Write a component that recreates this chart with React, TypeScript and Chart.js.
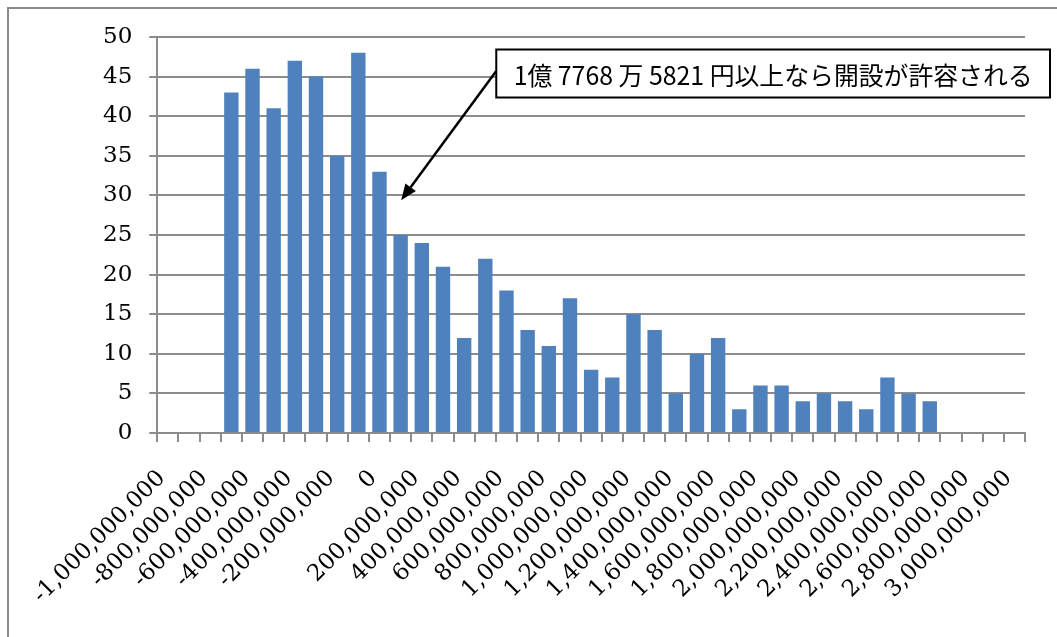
import React, { useEffect, useRef } from "react";
import { Chart, registerables } from "chart.js";

Chart.register(...registerables);

// Histogram bins (lower bound of each 100,000,000 yen bin)
const binStarts: number[] = [
  -1000000000, -900000000, -800000000, -700000000, -600000000,
  -500000000, -400000000, -300000000, -200000000, -100000000,
  0, 100000000, 200000000, 300000000, 400000000,
  500000000, 600000000, 700000000, 800000000, 900000000,
  1000000000, 1100000000, 1200000000, 1300000000, 1400000000,
  1500000000, 1600000000, 1700000000, 1800000000, 1900000000,
  2000000000, 2100000000, 2200000000, 2300000000, 2400000000,
  2500000000, 2600000000, 2700000000, 2800000000, 2900000000,
  3000000000,
];

// Frequency in each bin
const counts: (number | null)[] = [
  null, null, null, 43, 46,
  41, 47, 45, 35, 48,
  33, 25, 24, 21, 12,
  22, 18, 13, 11, 17,
  8, 7, 15, 13, 5,
  10, 12, 3, 6, 6,
  4, 5, 4, 3, 7,
  5, 4, null, null, null,
  null,
];

// Value axis
const yMin = 0;
const yMax = 50;
const yStep = 5;

// Only every second bin gets a printed label
const labelEvery = 2;

// Break-even amount and the note pointing to its bin
const thresholdYen = 177685821;
const arrowLevel = 29.4;
const noteText = "1億 7768 万 5821 円以上なら開設が許容される";

const BAR = "#4F81BD";
const GRID = "#8c8c8c";
const SERIF = "'DejaVu Serif', 'Liberation Serif', serif";
const TICK_SIZE = 23;

const formatYen = (v: number): string =>
  (v < 0 ? "-" : "") + String(Math.abs(v)).replace(/\B(?=(\d{3})+(?!\d))/g, ",");

const framePlugin = {
  id: "chartFrame",
  beforeDraw(chart: any) {
    const { ctx, width, height } = chart;
    ctx.save();
    ctx.fillStyle = "#ffffff";
    ctx.fillRect(0, 0, width, height);
    ctx.fillStyle = "#8a8a8a";
    ctx.fillRect(7, 7, 2, height - 7);
    ctx.fillRect(7, 7, width - 7, 2);
    ctx.restore();
  },
};

const notePlugin = {
  id: "thresholdNote",
  afterDraw(chart: any) {
    const { ctx, chartArea } = chart;
    const xs = chart.scales.x;
    const ys = chart.scales.y;

    let binIndex = 0;
    for (let i = 0; i < binStarts.length; i++) {
      if (binStarts[i] <= thresholdYen) binIndex = i;
    }
    const tipX = xs.getPixelForValue(binIndex) + 0.5;
    const tipY = ys.getPixelForValue(arrowLevel);

    const boxL = chartArea.left + 339;
    const boxT = chartArea.top + 12.5;
    const boxR = chartArea.right + 25;
    const boxB = boxT + 48;
    const startX = boxL;
    const startY = boxT + 21.5;

    ctx.save();
    // arrow
    const ang = Math.atan2(tipY - startY, tipX - startX);
    const headLen = 16;
    const headHalf = 6.5;
    const baseX = tipX - headLen * Math.cos(ang);
    const baseY = tipY - headLen * Math.sin(ang);
    ctx.strokeStyle = "#000";
    ctx.lineWidth = 2.5;
    ctx.beginPath();
    ctx.moveTo(startX, startY);
    ctx.lineTo(baseX, baseY);
    ctx.stroke();
    ctx.fillStyle = "#000";
    ctx.beginPath();
    ctx.moveTo(tipX, tipY);
    ctx.lineTo(baseX + headHalf * Math.sin(ang), baseY - headHalf * Math.cos(ang));
    ctx.lineTo(baseX - headHalf * Math.sin(ang), baseY + headHalf * Math.cos(ang));
    ctx.closePath();
    ctx.fill();

    // note box
    ctx.fillStyle = "#fff";
    ctx.fillRect(boxL, boxT, boxR - boxL, boxB - boxT);
    ctx.strokeStyle = "#000";
    ctx.lineWidth = 2;
    ctx.strokeRect(boxL, boxT, boxR - boxL, boxB - boxT);

    // note text, fitted to the box width
    ctx.font = "400 25px 'Noto Sans CJK JP', sans-serif";
    ctx.textAlign = "center";
    ctx.textBaseline = "middle";
    const w = ctx.measureText(noteText).width;
    const sx = 519 / w;
    ctx.translate((boxL + boxR) / 2, (boxT + boxB) / 2 + 2);
    ctx.scale(sx, 1);
    ctx.fillStyle = "#000";
    ctx.fillText(noteText, 0, 0);
    ctx.restore();
  },
};

export default function App() {
  const canvasRef = useRef<HTMLCanvasElement | null>(null);

  useEffect(() => {
    const canvas = canvasRef.current;
    if (!canvas) return;
    Chart.defaults.font.family = SERIF;

    const chart = new Chart(canvas, {
      type: "bar",
      data: {
        labels: binStarts.map(formatYen),
        datasets: [
          {
            data: counts as any,
            backgroundColor: BAR,
            borderWidth: 0,
            barPercentage: 0.68,
            categoryPercentage: 1,
          },
        ],
      },
      options: {
        animation: false,
        responsive: false,
        events: [],
        layout: { padding: { left: 86, right: 32, top: 37, bottom: 0 } },
        plugins: {
          legend: { display: false },
          tooltip: { enabled: false },
        },
        scales: {
          x: {
            offset: true,
            afterFit(scale: any) {
              // rotated labels hang below the plot; keep the plot box fixed
              scale.paddingLeft = 0;
              scale.paddingRight = 0;
              scale.getPadding = () => ({ left: 0, right: 0, top: 0, bottom: 0 });
              scale.height = 204;
            },
            grid: {
              offset: true,
              drawOnChartArea: false,
              drawTicks: true,
              tickLength: 9,
              color: GRID,
              lineWidth: 2,
            },
            border: { display: true, color: GRID, width: 2 },
            ticks: {
              autoSkip: false,
              minRotation: 45,
              maxRotation: 45,
              padding: 23,
              labelOffset: -6,
              color: "#000",
              font: { family: SERIF, size: TICK_SIZE },
              callback: function (this: any, value: any, index: number) {
                return index % labelEvery === 0 ? this.getLabelForValue(value) : "";
              },
            },
          },
          y: {
            min: yMin,
            max: yMax,
            ticks: {
              stepSize: yStep,
              padding: 17,
              color: "#000",
              font: { family: SERIF, size: TICK_SIZE },
            },
            grid: { color: GRID, lineWidth: 2, tickLength: 8, drawTicks: true },
            border: { display: true, color: GRID, width: 2 },
          },
        },
      },
      plugins: [framePlugin, notePlugin],
    });

    return () => chart.destroy();
  }, []);

  return (
    <canvas
      ref={canvasRef}
      width={1057}
      height={637}
      style={{ position: "fixed", left: 0, top: 0, display: "block" }}
    />
  );
}
